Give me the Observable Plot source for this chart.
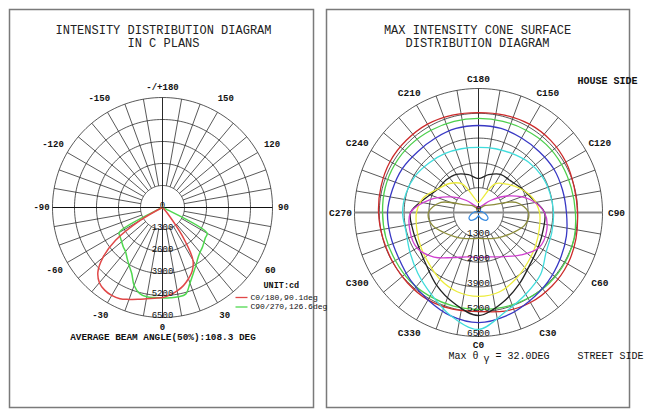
<!DOCTYPE html>
<html><head><meta charset="utf-8">
<script src="https://cdn.jsdelivr.net/npm/d3@7"></script>
<script src="https://cdn.jsdelivr.net/npm/@observablehq/plot@0.6"></script>
<style>
body{margin:0;background:#fff;}
#wrap{position:relative;width:650px;height:417px;overflow:hidden;background:#fff;}
#left,#right{position:absolute;top:0;width:325px;height:417px;}
#left{left:0;z-index:2;} #right{left:325px;z-index:1;}
#left svg{overflow:visible;}
</style></head><body>
<div id="wrap"><div id="left"></div><div id="right"></div></div>
<script>
// ---------- DATA ----------
const ringValues = [1300, 2600, 3900, 5200, 6500];
const ringLabels = ["0", "1300", "2600", "3900", "5200", "6500"];

// Left: intensity in C planes, gamma angle (signed)
const gammaAngles = [-90,-85,-80,-75,-70,-65,-60,-55,-50,-45,-40,-35,-30,-25,-20,-15,-10,-5,0,5,10,15,20,25,30,35,40,45,50,55,60,65,70,75,80,85,90];
const c0_180 = [0,0,0,0,0,100,1500,3400,4600,5400,5800,5960,6000,5950,5780,5620,5480,5380,5320,5180,5000,4780,4480,4150,3600,2000,500,100,0,0,0,0,0,0,0,0,0];
const c90_270 = [0,0,0,0,0,200,2950,3050,3150,3280,3400,3650,3950,4300,4900,5250,5360,5340,5340,5350,5360,5300,4750,4300,3950,3650,3450,3330,3200,3100,3050,200,0,0,0,0,0];
const leftSeriesNames = ["C0/180,90.1deg", "C90/270,126.6deg"];
const leftTickAngles = [180,-150,-120,-90,-60,-30,0,30,60,90,120,150];
const leftTickLabels = ["-/+180","-150","-120","-90","-60","-30","0","30","60","90","120","150"];

// Right: max intensity cone surface, C angle
const cAngles = [0,15,30,45,60,75,90,105,120,135,150,165,180,195,210,225,240,255,270,285,300,315,330,345];
const coneRed     = [5190,5350,5450,5450,5400,5290,5190,5190,5290,5350,5350,5290,5240,5290,5350,5350,5350,5290,5240,5190,5190,5240,5290,5240];
const coneGreen   = [5080,5140,5190,5240,5240,5190,5080,5030,5030,5030,4980,4950,4930,4950,4980,5030,5060,5060,5030,5030,5030,5080,5080,5080];
const coneBlue    = [5770,5610,5350,5140,4930,4770,4610,4560,4560,4510,4510,4560,4560,4560,4510,4510,4610,4670,4770,4770,4820,5030,5290,5610];
const coneCyan    = [6130,5400,4950,4600,4100,3980,3930,3880,3830,3720,3560,3460,3410,3460,3560,3670,3830,3930,3980,3930,4150,4500,4950,5600];
const coneBlack   = [5400,4880,4300,3830,3620,3510,3460,2890,2570,2360,2310,2050,1780,2050,2310,2410,2460,2880,3560,3560,3620,3880,4400,4930];
const coneYellow  = [4400,4300,3980,3670,3460,3300,3200,2940,2520,2100,1730,770,520,770,1730,2150,2460,2990,3250,3350,3510,3720,4040,4300];
const coneMagenta = [2360,2410,2670,3150,3670,3700,3460,2730,1730,890,430,310,210,310,430,890,1630,2620,3560,3720,3720,3300,2730,2410];
const coneOlive   = [1360,1420,1570,1780,2100,2520,2620,2040,790,520,310,210,160,210,310,520,790,2040,2620,2520,2100,1780,1570,1420];
const coneLight   = [160,260,420,580,580,420,260,160,100,50,30,0,0,0,30,50,100,160,260,420,580,580,420,260];
const rightTickAngles = [180,150,120,90,60,30,0,330,300,270,240,210];
const rightTickLabels = ["C180","C150","C120","C90","C60","C30","C0","C330","C300","C270","C240","C210"];

// ---------- HELPERS ----------
const FONT = "Liberation Mono, Courier New, monospace";
const W = 325, H = 417;
const rad = a => a * Math.PI / 180;
const px = (v, a) => v * Math.sin(rad(a));
const py = (v, a) => -v * Math.cos(rad(a));

function gridMarks(axisH) {
  const vmax = d3.max(ringValues);
  const circ = ringValues.flatMap(r => d3.range(0, 361, 2).map(a => ({r, x: px(r, a), y: py(r, a)})));
  const spokes = d3.range(0, 360, 10).filter(a => a % 90 !== 0)
    .map(a => ({x1: px(ringValues[0], a), y1: py(ringValues[0], a), x2: px(vmax, a), y2: py(vmax, a)}));
  return [
    Plot.line(circ, {x: "x", y: "y", z: "r", stroke: "#222", strokeWidth: 0.75}),
    Plot.link(spokes, {x1: "x1", y1: "y1", x2: "x2", y2: "y2", stroke: "#222", strokeWidth: 0.75}),
    Plot.link([0], {x1: px(vmax, 0), y1: py(vmax, 0), x2: px(vmax, 180), y2: py(vmax, 180), stroke: "#111", strokeWidth: 0.9}),
    Plot.link([0], {x1: px(vmax, 270), y1: py(vmax, 270), x2: px(vmax, 90), y2: py(vmax, 90), stroke: axisH.stroke, strokeWidth: axisH.width})
  ];
}

function panel(cfg, extra) {
  const {cx, cy, R, fl, ft, fr, fb} = cfg;
  const k = d3.max(ringValues) / R;
  const X = p => (p - cx) * k;
  const Y = p => (cy - p) * k;
  const marks = extra({X, Y, k, R});
  return Plot.plot({
    width: W, height: H,
    marginLeft: fl, marginTop: ft, marginRight: W - fr, marginBottom: H - fb,
    x: {domain: [X(fl), X(fr)], axis: null},
    y: {domain: [Y(fb), Y(ft)], axis: null},
    style: {fontFamily: FONT, background: "white"},
    marks: [Plot.frame({stroke: "#7a7a7a", strokeWidth: 1.5}), ...marks]
  });
}

function ringText(dy, size) {
  return Plot.text(ringLabels, {
    x: 0, y: (d) => -Number(d), text: d => d, dy, fontSize: size, fontFamily: FONT, fill: "#111", lineAnchor: "middle"
  });
}

// label radius (px) = R + offset(angle)
function tickText(angles, labels, R, k, off, size) {
  const rr = a => (R + off(a)) * k;
  return Plot.text(labels, {
    x: (d, i) => px(rr(angles[i]), angles[i]), y: (d, i) => py(rr(angles[i]), angles[i]),
    text: d => d, fontSize: size, fontWeight: "bold", fontFamily: FONT, fill: "#111", lineAnchor: "middle"
  });
}

// ---------- LEFT PANEL ----------
const leftRows = [
  ...gammaAngles.map((a, i) => ({s: 0, x: px(c0_180[i], a), y: py(c0_180[i], a)})),
  ...gammaAngles.map((a, i) => ({s: 1, x: px(c90_270[i], a), y: py(c90_270[i], a)}))
];
const leftColors = ["#e04848", "#4fd84f"];

const left = panel({cx: 162, cy: 207, R: 110, fl: 9, ft: 9, fr: 313, fb: 407}, ({X, Y, k, R}) => [
  ...gridMarks({stroke: "#111", width: 1}),
  Plot.line(leftRows.filter(d => d.s === 1), {x: "x", y: "y", stroke: leftColors[1], strokeWidth: 1.5, curve: "catmull-rom"}),
  Plot.line(leftRows.filter(d => d.s === 0), {x: "x", y: "y", stroke: leftColors[0], strokeWidth: 1.5, curve: "catmull-rom"}),
  ringText(-2, 9),
  tickText(leftTickAngles, leftTickLabels, R, k,
    a => (Math.abs(Math.cos(rad(a))) > 0.99 ? (a === 0 ? 9.5 : 10) : 11 + 4 * Math.abs(Math.sin(rad(2 * a))) + (Math.cos(rad(a)) < 0 ? 2 : 0)), 9),
  Plot.text(["INTENSITY DISTRIBUTION DIAGRAM", "IN C PLANS"], {x: X(163), y: (d, i) => Y(29.5 + 13 * i), text: d => d, fontSize: 12, fontFamily: FONT, fill: "#222", lineAnchor: "middle"}),
  Plot.text(["UNIT:cd"], {x: X(263), y: Y(285), text: d => d, fontSize: 8.5, fontWeight: "bold", fontFamily: FONT, textAnchor: "start", lineAnchor: "middle", fill: "#111"}),
  Plot.link(leftSeriesNames, {x1: X(235), x2: X(247), y1: (d, i) => Y(297 + 9.5 * i), y2: (d, i) => Y(297 + 9.5 * i), stroke: (d, i) => leftColors[i], strokeWidth: 1.3}),
  Plot.text(leftSeriesNames, {x: X(250), y: (d, i) => Y(296.5 + 9.5 * i), text: d => d, fontSize: 8, fontFamily: FONT, textAnchor: "start", lineAnchor: "middle", fill: "#111"}),
  Plot.text(["AVERAGE BEAM ANGLE(50%):108.3 DEG"], {x: X(162.5), y: Y(336.5), text: d => d, fontSize: 9.4, fontWeight: "bold", fontFamily: FONT, lineAnchor: "middle", fill: "#111"})
]);
document.getElementById("left").appendChild(left);

// ---------- RIGHT PANEL ----------
const coneSeries = [
  {name: "red", color: "#cc2a2a", v: coneRed},
  {name: "green", color: "#4ccf4c", v: coneGreen},
  {name: "blue", color: "#3838c4", v: coneBlue},
  {name: "cyan", color: "#40dcdc", v: coneCyan},
  {name: "black", color: "#222222", v: coneBlack},
  {name: "yellow", color: "#ecec3c", v: coneYellow},
  {name: "magenta", color: "#d040d0", v: coneMagenta},
  {name: "olive", color: "#8c8c3a", v: coneOlive},
  {name: "light", color: "#3a8ce0", v: coneLight}
];

const right = panel({cx: 153, cy: 212, R: 124, fl: 1, ft: 9, fr: 304, fb: 407}, ({X, Y, k, R}) => [
  ...gridMarks({stroke: "#8a8a8a", width: 2}),
  ...coneSeries.map(s => Plot.line(cAngles.map((a, i) => ({x: px(s.v[i], a), y: py(s.v[i], a)})),
      {x: "x", y: "y", stroke: s.color, strokeWidth: 1.3, curve: "catmull-rom-closed"})),
  ringText(-4, 9.5),
  tickText(rightTickAngles, rightTickLabels, R, k,
    a => (a === 0 ? 8.5 : a === 180 ? 10 : 10 + 4 * Math.abs(Math.sin(rad(a))) + 3 * Math.abs(Math.sin(rad(2 * a)))), 9.5),
  Plot.text(["MAX INTENSITY CONE SURFACE", "DISTRIBUTION DIAGRAM"], {x: X(152), y: (d, i) => Y(29.5 + 13 * i), text: d => d, fontSize: 12, fontFamily: FONT, fill: "#222", lineAnchor: "middle"}),
  Plot.text(["HOUSE SIDE"], {x: X(252), y: Y(80), text: d => d, fontSize: 10, fontWeight: "bold", fontFamily: FONT, textAnchor: "start", lineAnchor: "middle", fill: "#111"}),
  Plot.text(["STREET SIDE"], {x: X(252), y: Y(355), text: d => d, fontSize: 10, fontFamily: FONT, textAnchor: "start", lineAnchor: "middle", fill: "#111"}),
  Plot.text(["Max θ"], {x: X(123), y: Y(355), text: d => d, fontSize: 10, fontFamily: FONT, textAnchor: "start", lineAnchor: "middle", fill: "#111"}),
  Plot.text(["γ"], {x: X(161), y: Y(358), text: d => d, fontSize: 10, fontFamily: FONT, lineAnchor: "middle", fill: "#111"}),
  Plot.text(["= 32.0DEG"], {x: X(170), y: Y(355), text: d => d, fontSize: 10, fontFamily: FONT, textAnchor: "start", lineAnchor: "middle", fill: "#111"})
]);
document.getElementById("right").appendChild(right);
</script>
</body></html>
